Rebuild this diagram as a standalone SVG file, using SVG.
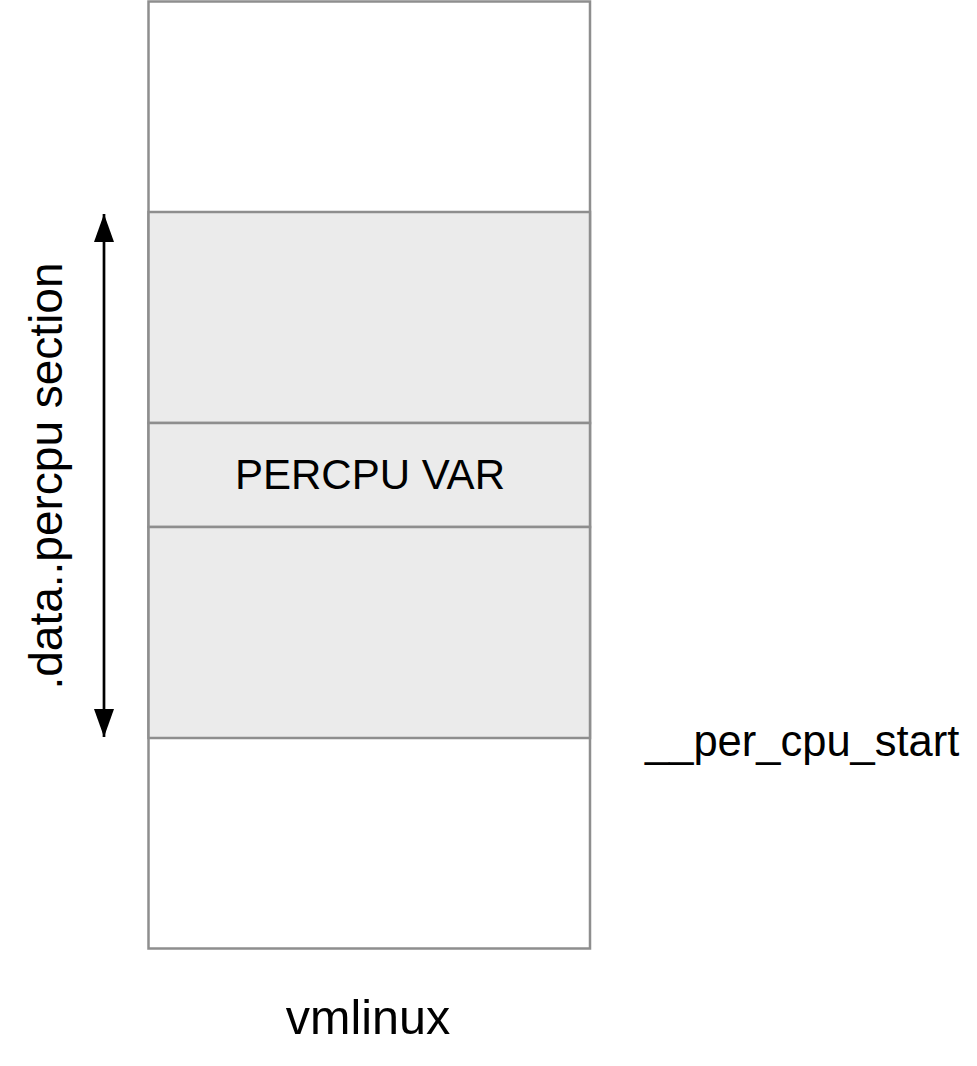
<svg xmlns="http://www.w3.org/2000/svg" width="977" height="1066" viewBox="0 0 977 1066">
<style>
.t{font-family:"Liberation Sans",Arial,sans-serif;fill:#000}
.box{stroke:#8e8e8e;stroke-width:2.5}
</style>
<defs>
<marker id="ah" viewBox="0 0 28 20" refX="28" refY="10" markerWidth="28" markerHeight="20" markerUnits="userSpaceOnUse" orient="auto-start-reverse">
<path d="M0,0 L28,10 L0,20 Z" fill="#000"/>
</marker>
</defs>
<rect width="977" height="1066" fill="#fff"/>
<g id="vmlinux">
<rect class="box" x="148.5" y="1.5" width="441.5" height="947" fill="#fff"/>
<text class="t" x="368" y="1034" font-size="48.5" text-anchor="middle">vmlinux</text>
</g>
<g id="percpu-upper">
<rect class="box" x="148.5" y="212" width="441.5" height="211" fill="#ebebeb"/>
</g>
<g id="percpu-var">
<rect class="box" x="148.5" y="423" width="441.5" height="104" fill="#ebebeb"/>
<text class="t" x="370" y="489" font-size="42" text-anchor="middle">PERCPU VAR</text>
</g>
<g id="percpu-lower">
<rect class="box" x="148.5" y="527" width="441.5" height="211" fill="#ebebeb"/>
</g>
<g id="connectors">
<line x1="104" y1="400" x2="104" y2="214" stroke="#000" stroke-width="2.7" marker-end="url(#ah)"/>
<line x1="104" y1="400" x2="104" y2="737" stroke="#000" stroke-width="2.7" marker-end="url(#ah)"/>
</g>
<g id="labels">
<text class="t" transform="translate(62,476) rotate(-90)" font-size="46" text-anchor="middle">.data..percpu section</text>
<text class="t" x="645" y="756" font-size="43.5">__per_cpu_start</text>
</g>
</svg>
